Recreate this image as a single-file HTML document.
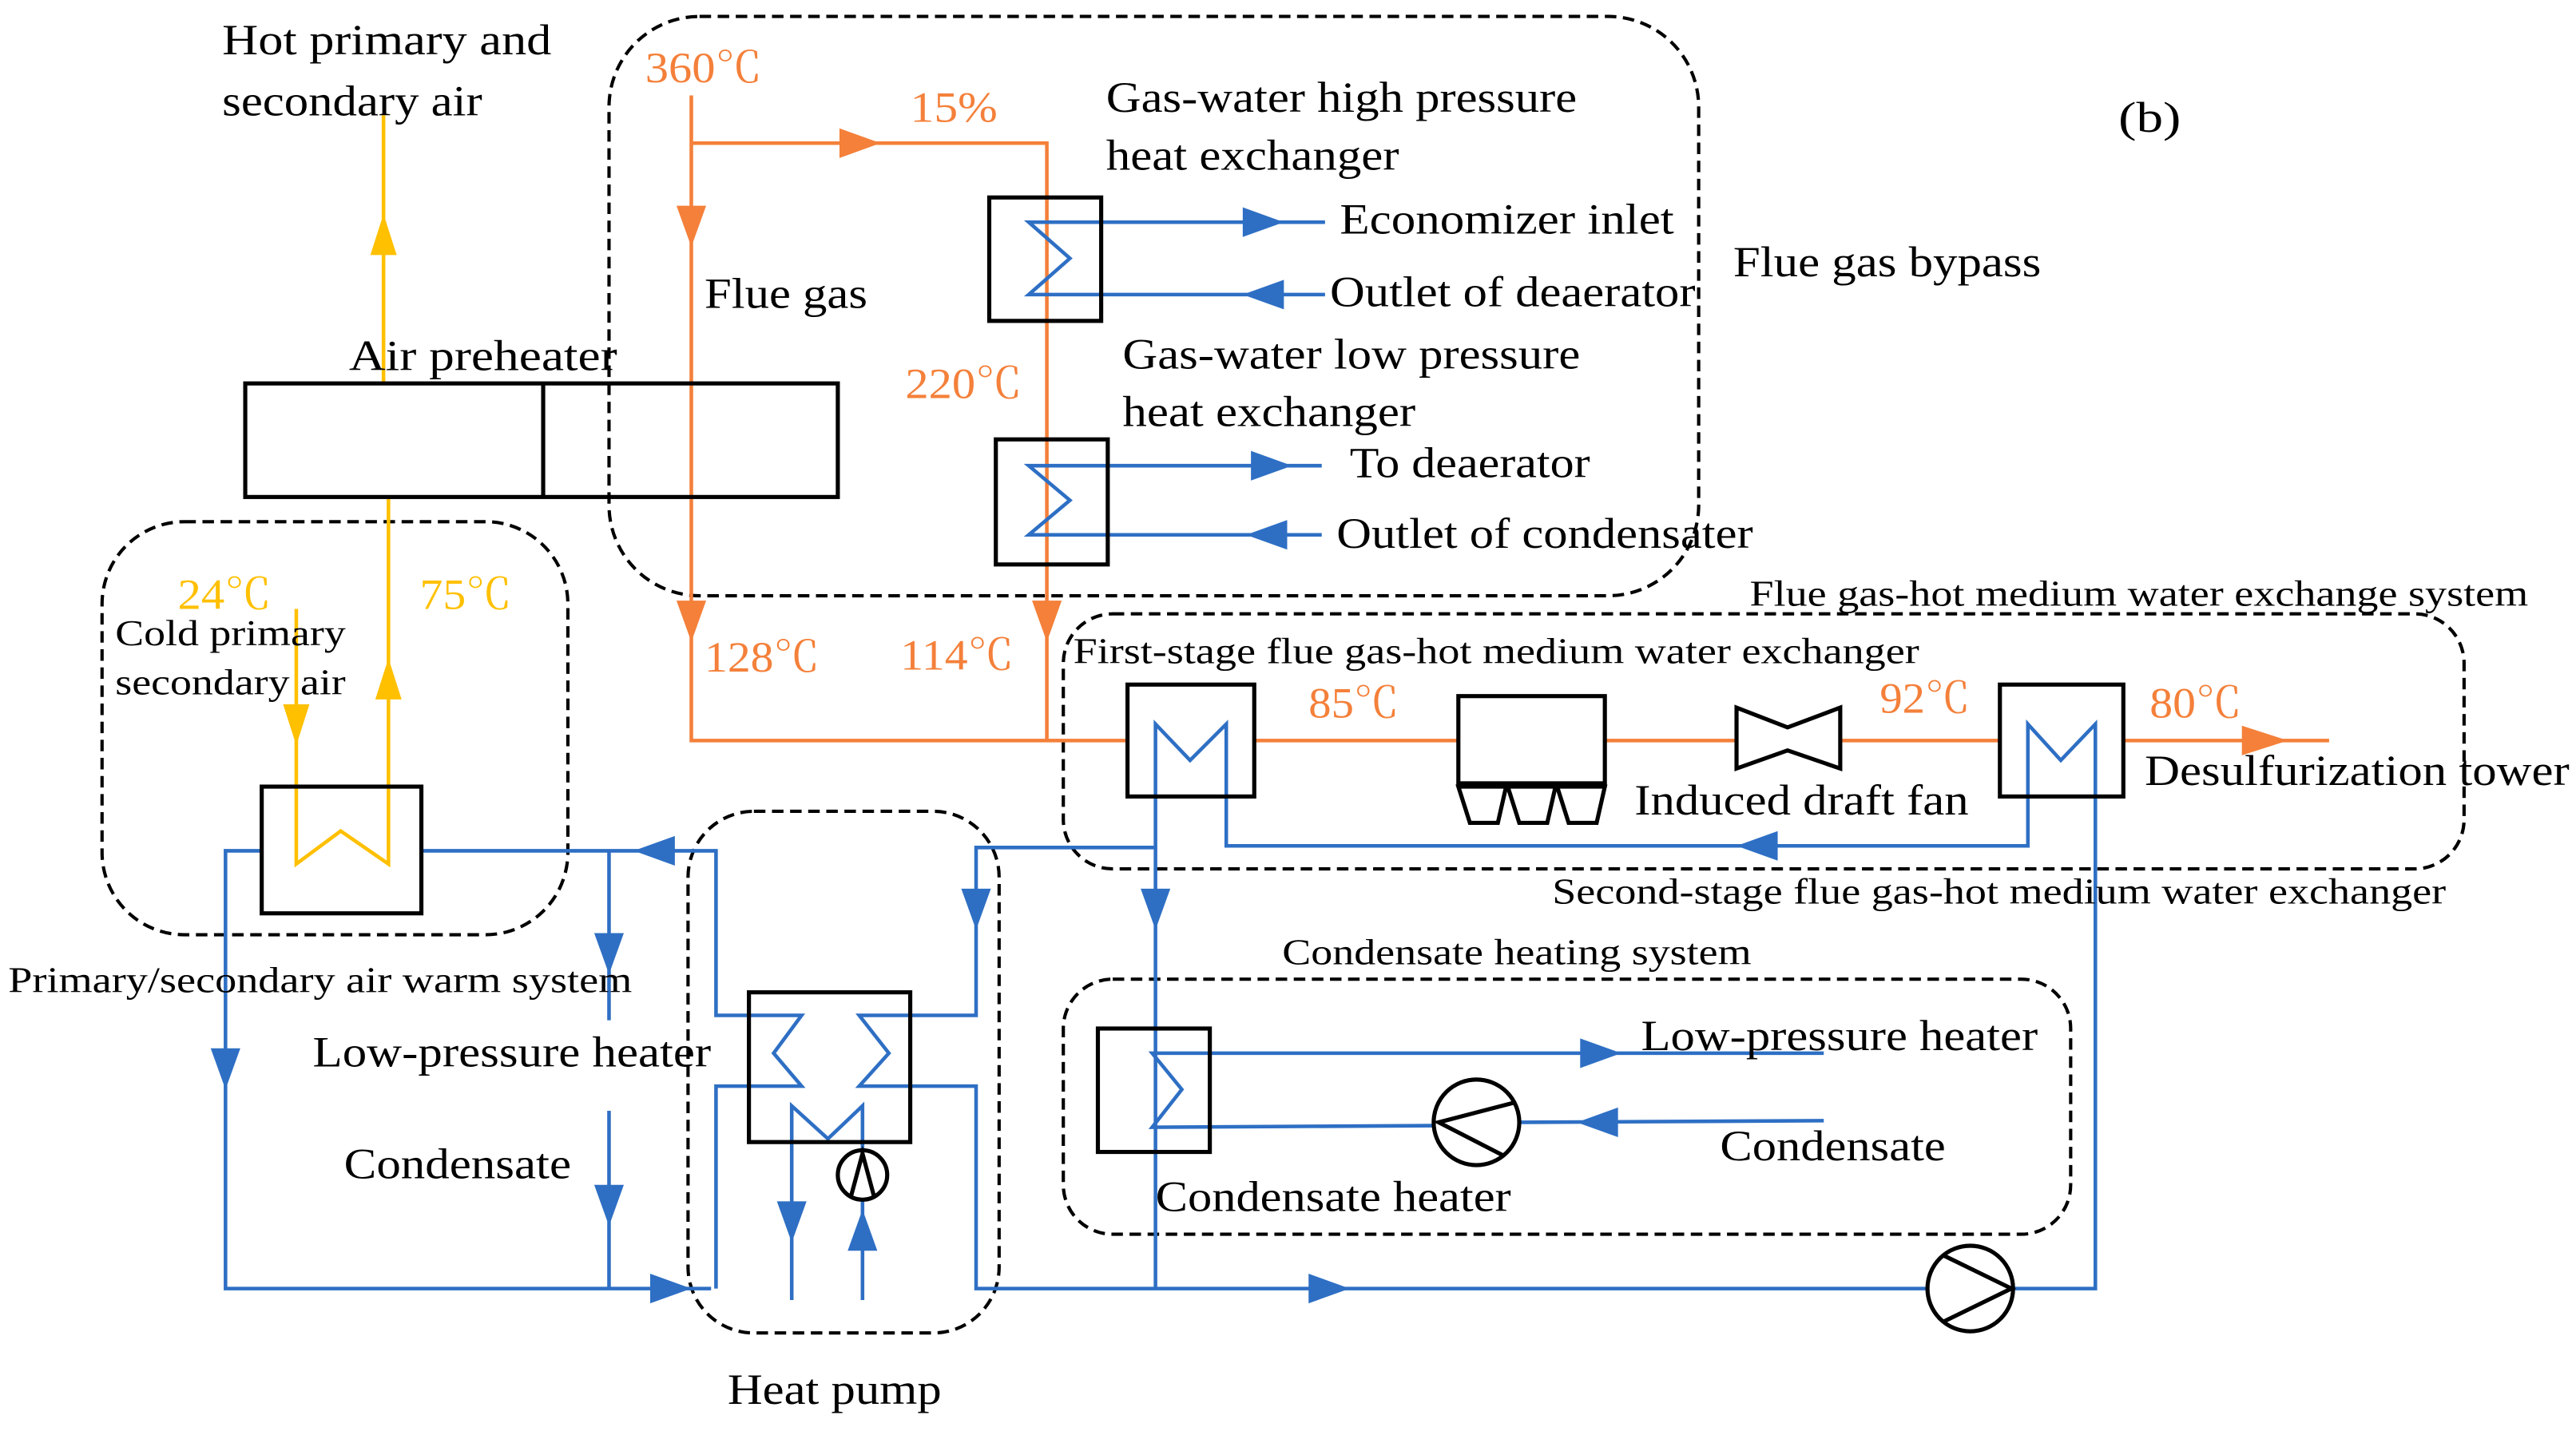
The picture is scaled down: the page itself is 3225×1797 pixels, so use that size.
<!DOCTYPE html>
<html><head><meta charset="utf-8"><style>html,body{margin:0;padding:0;background:#fff}svg{display:block}</style></head>
<body>
<svg width="3225" height="1797" viewBox="0 0 1565 872" preserveAspectRatio="none" xmlns="http://www.w3.org/2000/svg" font-family="'Liberation Serif', serif">
<g fill="none" stroke="#000" stroke-width="2" stroke-dasharray="7 4">
<rect x="370" y="10" width="662" height="352" rx="55"/>
<rect x="62" y="317" width="283" height="251" rx="50"/>
<rect x="646" y="373" width="851" height="155" rx="30"/>
<rect x="418" y="493" width="189" height="317" rx="40"/>
<rect x="646" y="595" width="612" height="155" rx="30"/>
</g>
<!-- yellow -->
<g stroke="#FFC000" stroke-width="2.2" fill="none">
<polyline points="233,70 233,233"/>
<polyline points="236,302 236,525 207,505 180,525 180,370"/>
</g>
<g fill="#FFC000">
<polygon points="233,130 225,155 241,155"/>
<polygon points="236,400 228,425 244,425"/>
<polygon points="180,453 172,428 188,428"/>
</g>
<!-- orange -->
<g stroke="#F4803A" stroke-width="2.2" fill="none">
<polyline points="420,58 420,450 685,450"/>
<polyline points="420,87 636,87 636,450"/>
<line x1="762" y1="450" x2="886" y2="450"/><line x1="975" y1="450" x2="1055" y2="450"/>
<line x1="1118" y1="450" x2="1215" y2="450"/><line x1="1290" y1="450" x2="1415" y2="450"/>
</g>
<g fill="#F4803A">
<polygon points="420,150 411,125 429,125"/>
<polygon points="535,87 510,78 510,96"/>
<polygon points="420,390 411,365 429,365"/>
<polygon points="636,390 627,365 645,365"/>
<polygon points="1390,450 1362,441 1362,459"/>
</g>
<!-- blue -->
<g stroke="#2E6FC4" stroke-width="2.2" fill="none">
<polyline points="805,135 625,135 650,157 625,179 805,179"/>
<polyline points="803,283 625,283 650,304 625,325 803,325"/>
<polyline points="702,782 702,440 723,462 745,440 745,514 1232,514 1232,440 1252,462 1273,440 1273,783 1222,783"/>
<polyline points="159,517 137,517 137,783 432,783"/>
<polyline points="256,517 435,517 435,617 487,617 470,640 487,660 435,660 435,783"/>
<line x1="370" y1="517" x2="370" y2="620"/><line x1="370" y1="675" x2="370" y2="783"/>
<polyline points="702,515 593,515 593,617 522,617 540,640 522,660 593,660 593,783 1172,783"/>
<polyline points="481,790 481,672 503,692 524,672 524,700"/>
<line x1="524" y1="729" x2="524" y2="790"/>
<polyline points="1108,640 700,640 718,662 700,685 872,684"/>
<line x1="922" y1="682" x2="1108" y2="681"/>
</g>
<g fill="#2E6FC4">
<polygon points="780,135 755,126 755,144"/>
<polygon points="755,179 780,170 780,188"/>
<polygon points="785,283 760,274 760,292"/>
<polygon points="757,325 782,316 782,334"/>
<polygon points="1055,514 1080,505 1080,523"/>
<polygon points="702,565 693,540 711,540"/>
<polygon points="385,517 410,508 410,526"/>
<polygon points="370,592 361,567 379,567"/>
<polygon points="370,745 361,720 379,720"/>
<polygon points="137,662 128,637 146,637"/>
<polygon points="420,783 395,774 395,792"/>
<polygon points="593,565 584,540 602,540"/>
<polygon points="820,783 795,774 795,792"/>
<polygon points="481,755 472,730 490,730"/>
<polygon points="524,735 515,760 533,760"/>
<polygon points="985,640 960,631 960,649"/>
<polygon points="958,682 983,673 983,691"/>
</g>
<!-- black equipment -->
<g stroke="#000" stroke-width="2.5" fill="none">
<rect x="149" y="233" width="360" height="69"/><line x1="330" y1="233" x2="330" y2="302"/>
<rect x="601" y="120" width="68" height="75"/>
<rect x="605" y="267" width="68" height="76"/>
<rect x="159" y="478" width="97" height="77"/>
<rect x="685" y="416" width="77" height="68"/>
<rect x="1215" y="416" width="75" height="68"/>
<rect x="455" y="603" width="98" height="91"/>
<rect x="667" y="625" width="68" height="75"/>
<rect x="886" y="423" width="89" height="53"/>
<polygon points="886,478 915,478 910,500 893,500"/>
<polygon points="916,478 945,478 940,500 923,500"/>
<polygon points="946,478 975,478 970,500 953,500"/>
<polygon points="1055,430 1086,442 1118,430 1118,467 1086,456 1055,467"/>
<circle cx="524" cy="714" r="15"/><polyline points="517,727 524,701 531,727"/>
<circle cx="897" cy="682" r="26"/><polyline points="920,670 874,682 913,702"/>
<circle cx="1197" cy="783" r="26"/><polyline points="1181,763 1222,783 1181,803"/>
</g>
<!-- text -->
<g font-size="26" fill="#000">
<text x="135" y="33" textLength="200" lengthAdjust="spacingAndGlyphs">Hot primary and</text>
<text x="135" y="70" textLength="158" lengthAdjust="spacingAndGlyphs">secondary air</text>
<text x="428" y="187" textLength="99" lengthAdjust="spacingAndGlyphs">Flue gas</text>
<text x="212" y="225" textLength="163" lengthAdjust="spacingAndGlyphs">Air  preheater</text>
<text x="672" y="68" textLength="286" lengthAdjust="spacingAndGlyphs">Gas-water high pressure</text>
<text x="672" y="103" textLength="178" lengthAdjust="spacingAndGlyphs">heat exchanger</text>
<text x="814" y="142" textLength="203" lengthAdjust="spacingAndGlyphs">Economizer inlet</text>
<text x="808" y="186" textLength="222" lengthAdjust="spacingAndGlyphs">Outlet of deaerator</text>
<text x="682" y="224" textLength="278" lengthAdjust="spacingAndGlyphs">Gas-water low pressure</text>
<text x="682" y="259" textLength="178" lengthAdjust="spacingAndGlyphs">heat exchanger</text>
<text x="820" y="290" textLength="146" lengthAdjust="spacingAndGlyphs">To deaerator</text>
<text x="812" y="333" textLength="253" lengthAdjust="spacingAndGlyphs">Outlet of condensater</text>
<text x="1053" y="168" textLength="187" lengthAdjust="spacingAndGlyphs">Flue gas bypass</text>
<text x="1287" y="80" textLength="38" lengthAdjust="spacingAndGlyphs">(b)</text>
<text x="1303" y="477" textLength="258" lengthAdjust="spacingAndGlyphs">Desulfurization tower</text>
<text x="993" y="495" textLength="203" lengthAdjust="spacingAndGlyphs">Induced draft fan</text>
<text x="190" y="648" textLength="242" lengthAdjust="spacingAndGlyphs">Low-pressure heater</text>
<text x="997" y="638" textLength="241" lengthAdjust="spacingAndGlyphs">Low-pressure heater</text>
<text x="209" y="716" textLength="138" lengthAdjust="spacingAndGlyphs">Condensate</text>
<text x="1045" y="705" textLength="137" lengthAdjust="spacingAndGlyphs">Condensate</text>
<text x="702" y="736" textLength="216" lengthAdjust="spacingAndGlyphs">Condensate heater</text>
<text x="442" y="853" textLength="130" lengthAdjust="spacingAndGlyphs">Heat pump</text>
</g>
<g font-size="22" fill="#000">
<text x="70" y="392" textLength="140" lengthAdjust="spacingAndGlyphs">Cold primary</text>
<text x="70" y="422" textLength="140" lengthAdjust="spacingAndGlyphs">secondary air</text>
<text x="1063" y="368" textLength="473" lengthAdjust="spacingAndGlyphs">Flue gas-hot medium water exchange system</text>
<text x="652" y="403" textLength="514" lengthAdjust="spacingAndGlyphs">First-stage flue gas-hot medium water exchanger</text>
<text x="943" y="549" textLength="543" lengthAdjust="spacingAndGlyphs">Second-stage flue gas-hot medium water exchanger</text>
<text x="779" y="586" textLength="285" lengthAdjust="spacingAndGlyphs">Condensate heating system</text>
<text x="5" y="603" textLength="379" lengthAdjust="spacingAndGlyphs">Primary/secondary air warm system</text>
</g>
<g font-size="26" fill="#F4803A" font-family="'Liberation Serif','Noto Serif CJK SC',serif">
<text x="392" y="50" textLength="71" lengthAdjust="spacingAndGlyphs">360℃</text>
<text x="553" y="74" textLength="53" lengthAdjust="spacingAndGlyphs">15%</text>
<text x="550" y="242" textLength="71" lengthAdjust="spacingAndGlyphs">220℃</text>
<text x="428" y="408" textLength="70" lengthAdjust="spacingAndGlyphs">128℃</text>
<text x="547" y="407" textLength="69" lengthAdjust="spacingAndGlyphs">114℃</text>
<text x="795" y="436" textLength="55" lengthAdjust="spacingAndGlyphs">85℃</text>
<text x="1142" y="433" textLength="55" lengthAdjust="spacingAndGlyphs">92℃</text>
<text x="1306" y="436" textLength="56" lengthAdjust="spacingAndGlyphs">80℃</text>
</g>
<g font-size="26" fill="#FFC000" font-family="'Liberation Serif','Noto Serif CJK SC',serif">
<text x="108" y="370" textLength="57" lengthAdjust="spacingAndGlyphs">24℃</text>
<text x="255" y="370" textLength="56" lengthAdjust="spacingAndGlyphs">75℃</text>
</g>
</svg>
</body></html>
